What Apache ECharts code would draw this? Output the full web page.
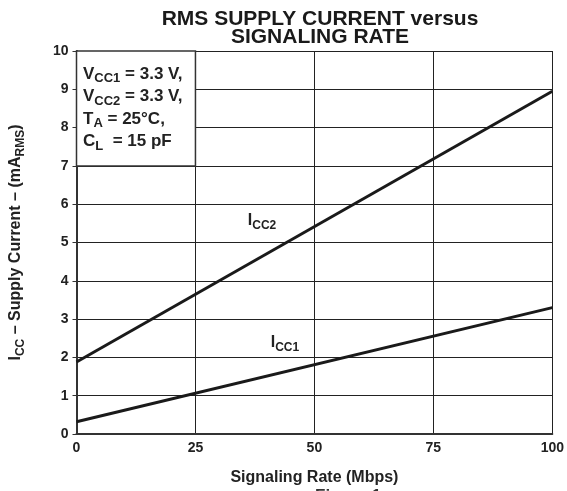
<!DOCTYPE html>
<html>
<head>
<meta charset="utf-8">
<script src="https://cdn.jsdelivr.net/npm/echarts@6/dist/echarts.min.js"></script>
<style>
  html, body { margin: 0; padding: 0; background: #fff; }
  #chart { width: 567px; height: 491px; }
</style>
</head>
<body>
<div id="chart"></div>
<script>
  // values
  var rate = [0, 100];
  var icc1 = [0.32, 3.3];
  var icc2 = [1.88, 8.95];
  var xTicks = [0, 25, 50, 75, 100];
  var yTicks = [0, 1, 2, 3, 4, 5, 6, 7, 8, 9, 10];

  var font = 'Liberation Sans, Arial, sans-serif';
  var chart = echarts.init(document.getElementById('chart'));

  function pairs(xs, ys) {
    var out = [];
    for (var i = 0; i < xs.length; i++) out.push([xs[i], ys[i]]);
    return out;
  }

  var sub = {
    b: { fontFamily: font, fontWeight: 'bold', fontSize: 16, color: '#222' },
    s: { fontFamily: font, fontWeight: 'bold', fontSize: 12, color: '#222', padding: [9, 0, 0, 0] }
  };

  var option = {
    animation: false,
    title: {
      text: 'RMS SUPPLY CURRENT versus\nSIGNALING RATE',
      left: 315, top: 5, textAlign: 'center',
      textStyle: { fontFamily: font, fontWeight: 'bold', fontSize: 21, color: '#1a1a1a', lineHeight: 18 }
    },
    grid: { left: 76, right: 14, top: 51, bottom: 57 },
    xAxis: {
      type: 'value', min: 0, max: 100, interval: 25,
      name: 'Signaling Rate (Mbps)', nameLocation: 'middle', nameGap: 36,
      nameTextStyle: { fontFamily: font, fontWeight: 'bold', fontSize: 16, color: '#222' },
      axisLine: { lineStyle: { color: '#333', width: 2 } },
      axisTick: { show: false },
      axisLabel: { fontFamily: font, fontWeight: 'bold', fontSize: 14, color: '#222', margin: 7,
        formatter: function (v) { return xTicks.indexOf(v) >= 0 ? v : ''; } },
      splitLine: { lineStyle: { color: '#222', width: 1 } }
    },
    yAxis: {
      type: 'value', min: 0, max: 10, interval: 1,
      name: '{b|I}{s|CC}{b| – Supply Current – (mA}{s|RMS}{b|)}',
      nameLocation: 'middle', nameGap: 50, nameRotate: 90,
      nameTextStyle: { rich: sub },
      axisLine: { lineStyle: { color: '#333', width: 2 } },
      axisTick: { show: true, inside: false, length: 4, lineStyle: { color: '#333' } },
      axisLabel: { fontFamily: font, fontWeight: 'bold', fontSize: 14, color: '#222', margin: 8,
        formatter: function (v) { return yTicks.indexOf(v) >= 0 ? v : ''; } },
      splitLine: { lineStyle: { color: '#222', width: 1 } }
    },
    series: [
      {
        name: 'ICC1', type: 'line', data: pairs(rate, icc1), symbol: 'none',
        lineStyle: { color: '#1a1a1a', width: 3 },
        markPoint: {
          symbol: 'circle', symbolSize: 0,
          data: [{ coord: [43.8, 2.38] }],
          label: { show: true, formatter: '{b|I}{s|CC1}', rich: sub }
        }
      },
      {
        name: 'ICC2', type: 'line', data: pairs(rate, icc2), symbol: 'none',
        lineStyle: { color: '#1a1a1a', width: 3 },
        markPoint: {
          symbol: 'circle', symbolSize: 0,
          data: [{ coord: [39, 5.56] }],
          label: { show: true, formatter: '{b|I}{s|CC2}', rich: sub }
        },
        markArea: {
          silent: true,
          itemStyle: { color: '#fff', borderColor: '#333', borderWidth: 1.5 },
          data: [[{ coord: [0, 10] }, { coord: [25, 7] }]]
        }
      }
    ],
    graphic: [
      {
        type: 'text', left: 83, top: 63, z: 100,
        style: {
          text: '{b|V}{s|CC1}{b| = 3.3 V,}\n{b|V}{s|CC2}{b| = 3.3 V,}\n{b|T}{s|A}{b| = 25°C,}\n{b|C}{s|L}{b|  = 15 pF}',
          rich: {
            b: { fontFamily: font, fontWeight: 'bold', fontSize: 17, fill: '#222', lineHeight: 22.5 },
            s: { fontFamily: font, fontWeight: 'bold', fontSize: 13, fill: '#222', padding: [9, 0, 0, 0], lineHeight: 22.5 }
          }
        }
      },
      {
        type: 'text', left: 315, top: 488, style: { text: 'Figure 1', align: 'center',
          fontFamily: font, fontWeight: 'bold', fontSize: 17, fill: '#333' }
      }
    ]
  };

  chart.setOption(option);
</script>
</body>
</html>
